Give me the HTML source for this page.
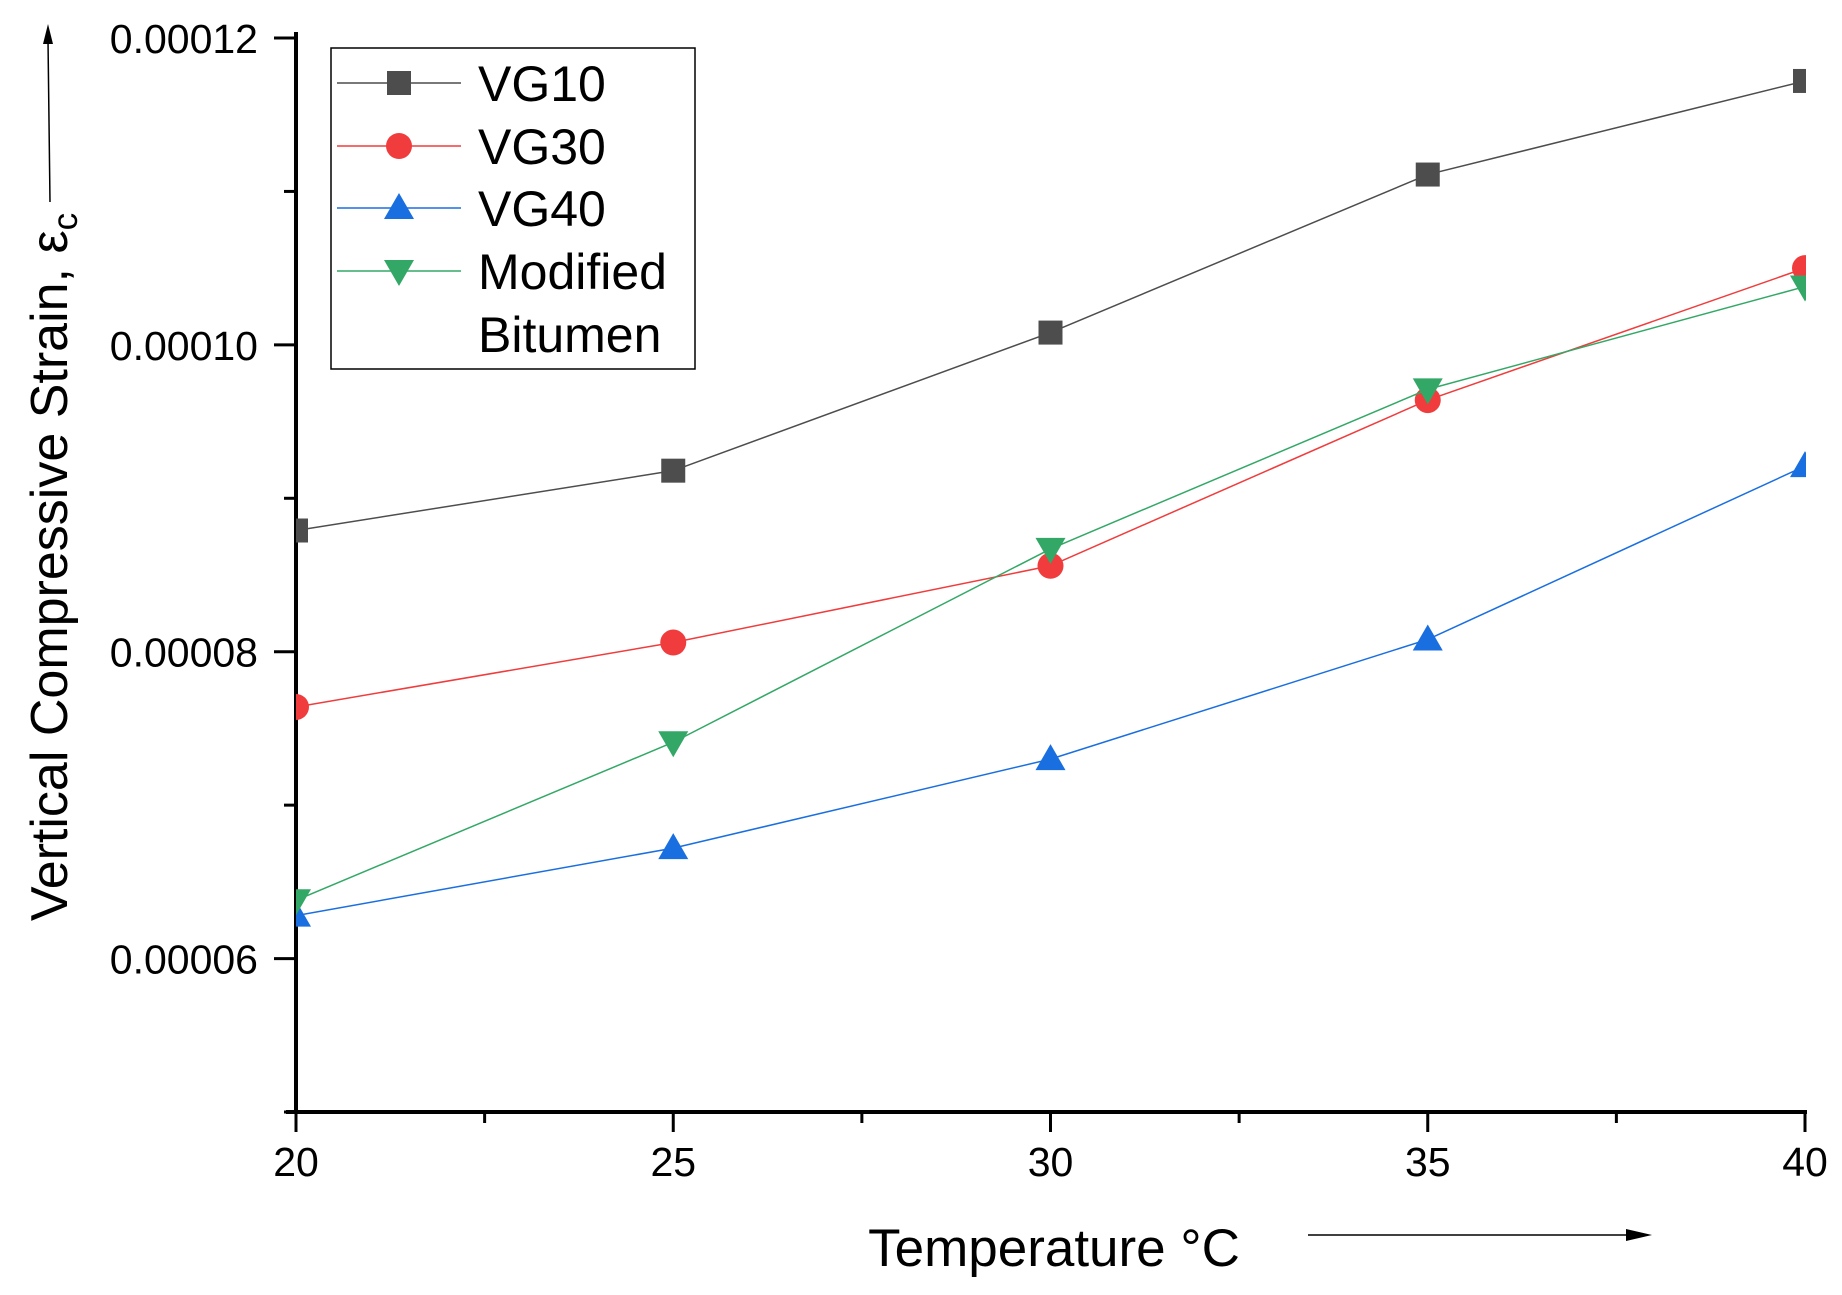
<!DOCTYPE html>
<html><head><meta charset="utf-8"><style>
html,body{margin:0;padding:0;background:#fff}
svg{display:block}
text{font-family:"Liberation Sans",Arial,sans-serif;fill:#000}
</style></head><body>
<svg id="chart" width="1842" height="1295" viewBox="0 0 1842 1295" xmlns="http://www.w3.org/2000/svg"></svg>
<script>
const categories = [20, 25, 30, 35, 40];
const vg10 = [8.79e-5, 9.18e-5, 10.08e-5, 11.11e-5, 11.72e-5];
const vg30 = [7.64e-5, 8.06e-5, 8.56e-5, 9.64e-5, 10.50e-5];
const vg40 = [6.28e-5, 6.72e-5, 7.30e-5, 8.08e-5, 9.21e-5];
const modified = [6.38e-5, 7.41e-5, 8.67e-5, 9.71e-5, 10.38e-5];
const yTicks = [0.00006, 0.00008, 0.00010, 0.00012];
const yTickLabels = ["0.00006", "0.00008", "0.00010", "0.00012"];
const xTicks = [20, 25, 30, 35, 40];

const NS = "http://www.w3.org/2000/svg";
const svg = document.getElementById('chart');
const X0 = 296, X1 = 1805, Y0 = 1112, Y1 = 38;
const xMin = 20, xMax = 40, yMin = 0.00005, yMax = 0.00012;
function sx(v){ return X0 + (v - xMin) / (xMax - xMin) * (X1 - X0); }
function sy(v){ return Y0 - (v - yMin) / (yMax - yMin) * (Y0 - Y1); }
function mk(tag, attrs, parent){
  const e = document.createElementNS(NS, tag);
  for (const k in attrs) e.setAttribute(k, attrs[k]);
  (parent || svg).appendChild(e);
  return e;
}

let a = mk('line', {x1:X0, y1:Y1-6, x2:X0, y2:Y0+2, stroke:'#000', 'stroke-width':4});


a = mk('line', {x1:X0-10, y1:Y0, x2:X1+2, y2:Y0, stroke:'#000', 'stroke-width':4});



for (let v = 0.00005; v <= 0.000120001; v += 0.00001) {
  const y = sy(v);
  const major = Math.abs(Math.round(v*1e5) % 2) === 0;
  const t = mk('line', {x1:X0 - (major ? 22 : 12), y1:y, x2:X0, y2:y, stroke:'#000', 'stroke-width':3});
  
  
}
yTicks.forEach((v, i) => {
  const t = mk('text', {x:258, y:sy(v)+15, 'font-size':41, 'text-anchor':'end'});
  t.textContent = yTickLabels[i];
  
  
});
for (let v = 20; v <= 40.001; v += 2.5) {
  const x = sx(v);
  const major = Math.abs(v % 5) < 0.01;
  const t = mk('line', {x1:x, y1:Y0, x2:x, y2:Y0 + (major ? 20 : 11), stroke:'#000', 'stroke-width':3});
  
  
}
xTicks.forEach(v => {
  const t = mk('text', {x:sx(v), y:1176, 'font-size':41, 'text-anchor':'middle'});
  t.textContent = String(v);
  
  
});

let tt = mk('text', {x:0, y:0, 'font-size':52, 'text-anchor':'middle', transform:'translate(67,567) rotate(-90)'});
tt.innerHTML = 'Vertical Compressive Strain, ε<tspan font-size="35" dy="10">c</tspan>';


tt = mk('text', {x:1054, y:1266, 'font-size':53, 'text-anchor':'middle'});
tt.textContent = 'Temperature °C';



let ar = mk('line', {x1:50, y1:202, x2:48, y2:40, stroke:'#000', 'stroke-width':1.5});


ar = mk('polygon', {points:'48,24 43,44 53,44', fill:'#000'});


ar = mk('line', {x1:1308, y1:1235, x2:1630, y2:1235, stroke:'#000', 'stroke-width':1.5});


ar = mk('polygon', {points:'1652,1235 1626,1229 1626,1241', fill:'#000'});



const series = [
  {name:'vg10', data:vg10, color:'#4d4d4d', marker:'square'},
  {name:'vg30', data:vg30, color:'#f03c3c', marker:'circle'},
  {name:'vg40', data:vg40, color:'#1a6fe0', marker:'up'},
  {name:'modified-bitumen', data:modified, color:'#33a866', marker:'down'}
];
function marker(type, x, y, color, parent){
  let m;
  if (type === 'square') m = mk('rect', {x:x-12, y:y-12, width:24, height:24, fill:color}, parent);
  else if (type === 'circle') m = mk('circle', {cx:x, cy:y, r:13, fill:color}, parent);
  else if (type === 'up') m = mk('polygon', {points:`${x},${y-15} ${x-15},${y+11} ${x+15},${y+11}`, fill:color}, parent);
  else m = mk('polygon', {points:`${x},${y+15} ${x-15},${y-11} ${x+15},${y-11}`, fill:color}, parent);
  return m;
}
const clip = mk('clipPath', {id:'pc'});
mk('rect', {x:X0, y:0, width:X1-X0+1, height:Y0}, clip);
series.forEach(s => {
  const g = mk('g', {'clip-path':'url(#pc)'});
  
  
  const pts = s.data.map((v, i) => sx(categories[i]) + ',' + sy(v)).join(' ');
  const pl = mk('polyline', {points:pts, fill:'none', stroke:s.color, 'stroke-width':1.5}, g);
  
  
  s.data.forEach((v, i) => {
    const m = marker(s.marker, sx(categories[i]), sy(v), s.color, g);
    
    
  });
});

const lg = mk('g', {});


mk('rect', {x:331, y:48, width:364, height:321, fill:'#fff', stroke:'#000', 'stroke-width':1.5}, lg);
const legendLabels = ['VG10', 'VG30', 'VG40', 'Modified'];
const legendY = [83, 146, 208, 271];
series.forEach((s, i) => {
  const e = mk('g', {}, lg);
  
  
  mk('line', {x1:337, y1:legendY[i], x2:461, y2:legendY[i], stroke:s.color, 'stroke-width':1.5}, e);
  marker(s.marker, 399, legendY[i], s.color, e);
  const t = mk('text', {x:478, y:legendY[i]+18, 'font-size':50}, e);
  t.textContent = legendLabels[i];
});
const bt = mk('text', {x:478, y:352, 'font-size':50}, lg);
bt.textContent = 'Bitumen';


</script>
</body></html>
